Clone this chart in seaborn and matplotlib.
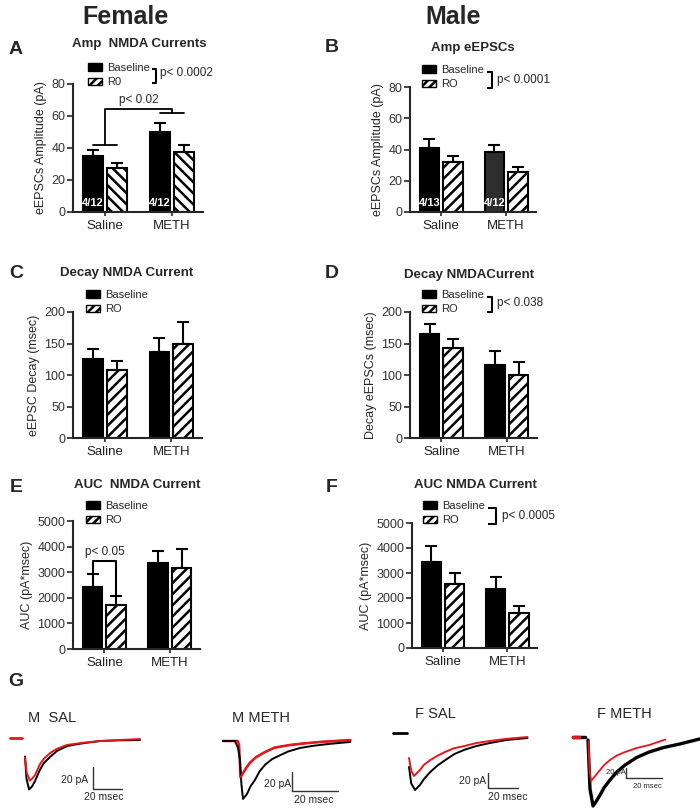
import numpy as np
import pandas as pd
import seaborn as sns
import matplotlib.pyplot as plt
from matplotlib.patches import Patch
from matplotlib.lines import Line2D

sns.set_style("ticks")
plt.rcParams['font.family'] = ['Liberation Sans', 'DejaVu Sans']
plt.rcParams['hatch.linewidth'] = 1.8

W, H = 700, 808

groups = ['Saline', 'METH']

# panel values (mean, sem)
a_base = [35, 50]
a_base_err = [4, 5.6]
a_ro = [27.5, 37.5]
a_ro_err = [3.1, 4.4]

b_base = [41, 38.4]
b_base_err = [5.7, 4.6]
b_ro = [32, 25.6]
b_ro_err = [4, 3.2]

c_base = [125, 136]
c_base_err = [16, 23]
c_ro = [108, 149]
c_ro_err = [15, 35]

d_base = [165, 116]
d_base_err = [16, 22]
d_ro = [143, 100]
d_ro_err = [14, 21]

e_base = [2430, 3370]
e_base_err = [510, 470]
e_ro = [1725, 3160]
e_ro_err = [355, 740]

f_base = [3440, 2360]
f_base_err = [640, 480]
f_ro = [2560, 1400]
f_ro_err = [440, 280]

n_labels_a = ['4/12', '4/12']
n_labels_b = ['4/13', '4/12']

# example traces (time in msec, current in pA)
msal_black_t = [0, 1, 2.8, 5, 7, 10.3, 13, 17.2, 22, 29, 35, 41.4, 51.7, 65, 79.3]
msal_black_i = [-15, -35, -45, -42, -37, -27, -21, -15.5, -10, -5.5, -4, -2.7, -0.9, -0.3, 0]
msal_red_t = [0, 1.2, 3.4, 5, 6.9, 10.3, 13, 17.2, 22, 29, 40, 51.7, 65, 79.3]
msal_red_i = [-16, -30, -37, -35, -32, -22, -17, -12, -8, -4.5, -2.5, -1, 0, 0.9]
msal_red_pre_t = [-10.3, -2.1]
msal_red_pre_i = [1.8, 1.8]

mmeth_black_t = [-7.4, -2.2, -0.9, 0, 0.6, 1.3, 3, 4.5, 6.5, 8.5, 10.9, 14, 17.4, 21, 26, 32, 39, 48]
mmeth_black_i = [0, 0, -7, -20, -45, -61, -56, -48, -41, -32, -25, -19, -15, -11, -7.4, -5, -3, -1]
mmeth_red_t = [-7.4, -1, -0.4, 0.2, 1.5, 2.8, 4.3, 7, 10.9, 15, 21.7, 28, 34.8, 48]
mmeth_red_i = [0, 0, -4, -38, -33, -28, -23, -17, -11.6, -7, -4.2, -2.5, -1, 1]

fsal_black_pre_t = [-10.7, -1.3]
fsal_black_pre_i = [5.3, 5.3]
fsal_black_t = [0, 1.5, 4, 7.3, 10, 14, 19, 24, 30, 37, 45, 54, 65, 79]
fsal_black_i = [-40, -62, -70.7, -64, -56, -47, -38, -31, -23, -17, -12, -8, -4, -1.3]
fsal_red_t = [0, 1.5, 3.3, 7.3, 10, 14, 19, 24, 30, 37, 45, 54, 65, 79]
fsal_red_i = [-28, -45, -52, -44, -37, -31, -25, -20, -15, -12, -8, -5.3, -2.5, 0]

fmeth_black_pre_t = [-8.3, -1.7]
fmeth_black_pre_i = [4, 4]
fmeth_red_pre_t = [-8.3, -5]
fmeth_red_pre_i = [4, 4]
fmeth_black_t = [0, 1.1, 2.8, 4.5, 6.7, 9, 12.2, 16, 20.6, 27, 34, 42, 51, 62]
fmeth_black_i = [-2, -100, -134, -125, -112, -97, -82, -66, -52, -37, -26, -17, -10, 0]
fmeth_red_t = [0.3, 0.8, 1.7, 3.5, 6.7, 9, 12.2, 16, 20.6, 27, 34, 43]
fmeth_red_i = [-5, -60, -84, -76, -62, -52, -42, -33, -26, -18, -12, -1]

fig = plt.figure(figsize=(7, 8.08), dpi=100)


def fx(x):
    return x / W


def fy(y):
    return 1 - y / H


def add_ax(x0, x1, y0, y1):
    return fig.add_axes([fx(x0), fy(y1), (x1 - x0) / W, (y1 - y0) / H])


def fig_line(xs, ys, lw=1.5):
    fig.add_artist(Line2D([fx(v) for v in xs], [fy(v) for v in ys],
                          transform=fig.transFigure, color='black', lw=lw,
                          solid_capstyle='butt'))


def fig_text(x, y, s, **kw):
    fig.text(fx(x), fy(y), s, va='center', **kw)


def bar_panel(ax, base, base_err, ro, ro_err, ymax, ystep, ylabel,
              bar_hatch='///', ro_name='RO', leg_xy=(0, 0)):
    df = pd.DataFrame({'group': groups * 2,
                       'cond': ['Baseline'] * 2 + ['RO'] * 2,
                       'value': base + ro})
    sns.barplot(data=df, x='group', y='value', hue='cond',
                palette=['black', 'white'], saturation=1, width=0.72, gap=0.17,
                errorbar=None, edgecolor='black', linewidth=1.5,
                legend=False, ax=ax)
    centers = []
    for cont, errs, h in zip(ax.containers, [base_err, ro_err], ['', bar_hatch]):
        row = []
        for bar, e in zip(cont, errs):
            bar.set_hatch(h)
            xc = bar.get_x() + bar.get_width() / 2
            top = bar.get_height()
            ax.errorbar(xc, top, yerr=[[0], [e]], color='black', capsize=4.5,
                        elinewidth=1.5, capthick=1.5, zorder=1)
            row.append(xc)
        centers.append(row)
    ax.set_xlim(-0.48, 1.46)
    ax.set_ylim(0, ymax)
    ax.set_yticks(np.arange(0, ymax + 1, ystep))
    ax.set_xlabel('')
    ax.set_ylabel(ylabel, fontsize=9, labelpad=3)
    ax.tick_params(axis='y', length=4, width=1.2, labelsize=9, pad=1.5,
                   labelcolor='#333333')
    ax.tick_params(axis='x', length=3, width=1.2, labelsize=9.5, pad=3,
                   labelcolor='#222222')
    for s in ['left', 'bottom']:
        ax.spines[s].set_linewidth(1.5)
    sns.despine(ax=ax)
    handles = [Patch(facecolor='black', edgecolor='black'),
               Patch(facecolor='white', edgecolor='black', hatch='////')]
    ax.legend(handles, ['Baseline', ro_name], loc='upper left',
              bbox_to_anchor=(fx(leg_xy[0]), fy(leg_xy[1])),
              bbox_transform=fig.transFigure, frameon=False, borderpad=0,
              borderaxespad=0, handlelength=1.3, handleheight=0.65,
              handletextpad=0.45, labelspacing=0.4, fontsize=8)
    return centers


# headings
fig_text(125, 17, 'Female', ha='center', fontsize=18, fontweight='bold')
fig_text(453, 17, 'Male', ha='center', fontsize=18, fontweight='bold')

for letter, x, y in [('A', 16, 50), ('B', 332, 48), ('C', 16, 273), ('D', 332, 273),
                     ('E', 16, 488), ('F', 332, 488), ('G', 16, 682)]:
    fig_text(x, y, letter, ha='center', fontsize=14, fontweight='bold')

# A
axA = add_ax(73, 203, 84, 212)
cA = bar_panel(axA, a_base, a_base_err, a_ro, a_ro_err, 80, 20,
               'eEPSCs Amplitude (pA)', bar_hatch='\\\\\\', ro_name='R0', leg_xy=(88, 63))
fig_text(139, 44, 'Amp  NMDA Currents', ha='center', fontsize=9.5, fontweight='bold')
for xc, lab in zip(cA[0], n_labels_a):
    axA.text(xc, 5.5, lab, color='white', fontsize=8, fontweight='bold',
             ha='center', va='center')
# group comparison bracket
sal_mid = (cA[0][0] + cA[1][0]) / 2
meth_mid = (cA[0][1] + cA[1][1]) / 2
axA.plot([cA[0][0], cA[1][0]], [42, 42], color='black', lw=1.3, clip_on=False)
axA.plot([cA[0][1], cA[1][1]], [62, 62], color='black', lw=1.3, clip_on=False)
axA.plot([sal_mid, sal_mid, meth_mid, meth_mid], [42, 64.5, 64.5, 62],
         color='black', lw=1.3, clip_on=False)
axA.text((sal_mid + meth_mid) / 2, 70, 'p< 0.02', ha='center', va='center', fontsize=8.5)
fig_line([152, 156, 156, 152], [69, 69, 83, 83])
fig_text(160, 73, 'p< 0.0002', ha='left', fontsize=8.5)

# B
axB = add_ax(410, 536, 87, 212)
cB = bar_panel(axB, b_base, b_base_err, b_ro, b_ro_err, 80, 20,
               'eEPSCs Amplitude (pA)', leg_xy=(422, 65))
axB.containers[0][1].set_facecolor('#2e2e2e')
fig_text(473, 48, 'Amp eEPSCs', ha='center', fontsize=9.5, fontweight='bold')
for xc, lab in zip(cB[0], n_labels_b):
    axB.text(xc, 5.5, lab, color='white', fontsize=8, fontweight='bold',
             ha='center', va='center')
fig_line([487, 492, 492, 487], [72, 72, 88, 88])
fig_text(497, 80, 'p< 0.0001', ha='left', fontsize=8.5)

# C
axC = add_ax(73, 202, 312, 438)
bar_panel(axC, c_base, c_base_err, c_ro, c_ro_err, 200, 50,
          'eEPSC Decay (msec)', leg_xy=(86, 290))
fig_text(127, 273, 'Decay NMDA Current', ha='center', fontsize=9.5, fontweight='bold')

# D
axD = add_ax(410, 537, 312, 438)
bar_panel(axD, d_base, d_base_err, d_ro, d_ro_err, 200, 50,
          'Decay eEPSCs (msec)', leg_xy=(422, 290))
fig_text(469, 275, 'Decay NMDACurrent', ha='center', fontsize=9.5, fontweight='bold')
fig_line([487, 492, 492, 487], [297, 297, 312, 312])
fig_text(497, 303, 'p< 0.038', ha='left', fontsize=8.5)

# E
axE = add_ax(73, 200, 521, 649)
cE = bar_panel(axE, e_base, e_base_err, e_ro, e_ro_err, 5000, 1000,
               'AUC (pA*msec)', leg_xy=(86, 501))
fig_text(137, 485, 'AUC  NMDA Current', ha='center', fontsize=9.5, fontweight='bold')
top_b = e_base[0] + e_base_err[0] + 40
top_r = e_ro[0] + e_ro_err[0] + 40
axE.plot([cE[0][0], cE[0][0], cE[1][0], cE[1][0]], [top_b, 3420, 3420, top_r],
         color='black', lw=1.5)
axE.text((cE[0][0] + cE[1][0]) / 2, 3780, 'p< 0.05', ha='center', va='center', fontsize=8.5)

# F
axF = add_ax(412, 537, 523, 648)
bar_panel(axF, f_base, f_base_err, f_ro, f_ro_err, 5000, 1000,
          'AUC (pA*msec)', leg_xy=(423, 501))
fig_text(475, 485, 'AUC NMDA Current', ha='center', fontsize=9.5, fontweight='bold')
fig_line([488, 496, 496, 488], [508, 508, 524, 524])
fig_text(502, 516, 'p< 0.0005', ha='left', fontsize=8.5)


# G: example traces
def trace_ax(box, t0, base, px_ms, px_pa):
    x0, x1, y0, y1 = box
    ax = add_ax(x0, x1, y0, y1)
    ax.set_xlim((x0 - t0) / px_ms, (x1 - t0) / px_ms)
    ax.set_ylim((base - y1) / px_pa, (base - y0) / px_pa)
    ax.axis('off')
    return ax


def draw(ax, t, i, color, lw=1.4):
    sns.lineplot(x=t, y=i, ax=ax, color=color, lw=lw, sort=False, estimator=None)


def scale_bar(ax, t, i):
    ax.plot([t, t, t + 20], [i + 20, i, i], color='#333333', lw=1)


red = '#e8151b'

g1 = trace_ax((5, 150, 725, 808), 25, 740, 1.45, 1.1)
draw(g1, msal_black_t, msal_black_i, 'black')
draw(g1, msal_red_t, msal_red_i, red)
draw(g1, msal_red_pre_t, msal_red_pre_i, red, lw=2)
scale_bar(g1, 46.9, -44.5)

g2 = trace_ax((215, 355, 725, 808), 240, 741, 2.3, 0.95)
draw(g2, mmeth_red_t, mmeth_red_i, red, lw=1.8)
draw(g2, mmeth_black_t, mmeth_black_i, 'black')
draw(g2, mmeth_red_t[3:], mmeth_red_i[3:], red)
scale_bar(g2, 22.6, -52.6)

g3 = trace_ax((385, 540, 725, 808), 409, 737, 1.5, 0.75)
draw(g3, fsal_black_pre_t, fsal_black_pre_i, 'black', lw=2)
draw(g3, fsal_black_t, fsal_black_i, 'black')
draw(g3, fsal_red_t, fsal_red_i, red)
scale_bar(g3, 52.7, -68)

g4 = trace_ax((565, 700, 725, 808), 588, 739, 1.8, 0.5)
draw(g4, fmeth_black_pre_t, fmeth_black_pre_i, 'black', lw=2.5)
draw(g4, fmeth_red_pre_t, fmeth_red_pre_i, red, lw=2.5)
draw(g4, fmeth_black_t, fmeth_black_i, 'black', lw=2.4)
draw(g4, fmeth_red_t, fmeth_red_i, red, lw=1.3)
scale_bar(g4, 21.1, -78)

fig_text(28, 718, 'M  SAL', ha='left', fontsize=10.5)
fig_text(232, 718, 'M METH', ha='left', fontsize=10.5)
fig_text(415, 714, 'F SAL', ha='left', fontsize=10.5)
fig_text(597, 714, 'F METH', ha='left', fontsize=10.5)

fig_text(88, 780, '20 pA', ha='right', fontsize=7.5)
fig_text(104, 797, '20 msec', ha='center', fontsize=7.5)
fig_text(291, 784, '20 pA', ha='right', fontsize=7.5)
fig_text(314, 800, '20 msec', ha='center', fontsize=7.5)
fig_text(486, 781, '20 pA', ha='right', fontsize=7.5)
fig_text(508, 797, '20 msec', ha='center', fontsize=7.5)
fig_text(626, 772, '20 pA', ha='right', fontsize=5.5)
fig_text(647, 787, '20 msec', ha='center', fontsize=5.5)

fig.savefig('out.png', dpi=100)
